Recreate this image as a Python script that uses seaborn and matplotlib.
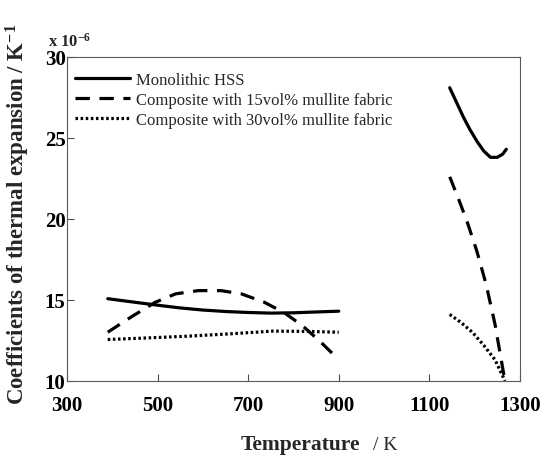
import matplotlib

matplotlib.use("Agg")
import matplotlib.pyplot as plt
import numpy as np
import pandas as pd
import seaborn as sns

# values (x: temperature / K, y: CTE x 1e-6 / K)
hss_lo_t = [390, 450, 500, 550, 600, 650, 700, 750, 800, 850, 900]
hss_lo_v = [15.07, 14.85, 14.67, 14.5, 14.37, 14.28, 14.22, 14.18, 14.2, 14.25, 14.3]
hss_hi_t = [1145, 1160, 1175, 1190, 1205, 1220, 1235, 1250, 1262, 1270]
hss_hi_v = [28.1, 27.2, 26.3, 25.5, 24.8, 24.2, 23.8, 23.8, 24.0, 24.3]

c15_lo_t = [390, 445, 495, 540, 590, 640, 685, 735, 780, 820, 860, 900]
c15_lo_v = [13.0, 14.0, 14.85, 15.37, 15.57, 15.57, 15.37, 14.86, 14.2, 13.4, 12.4, 11.3]
c15_hi_t = [1145, 1165, 1185, 1205, 1225, 1245, 1265]
c15_hi_v = [22.6, 21.2, 19.7, 18.0, 16.0, 13.5, 10.3]

c30_lo_t = [390, 480, 570, 660, 755, 830, 900]
c30_lo_v = [12.55, 12.65, 12.76, 12.9, 13.07, 13.05, 13.0]
c30_hi_t = [1145, 1170, 1195, 1220, 1245, 1267]
c30_hi_v = [14.1, 13.6, 13.0, 12.2, 11.3, 10.0]

labels = ["Monolithic HSS",
          "Composite with 15vol% mullite fabric",
          "Composite with 30vol% mullite fabric"]

x_ticks = [300, 500, 700, 900, 1100, 1300]
y_ticks = [10, 15, 20, 25, 30]

frames = []
for lab, segs in zip(labels, [[(hss_lo_t, hss_lo_v), (hss_hi_t, hss_hi_v)],
                              [(c15_lo_t, c15_lo_v), (c15_hi_t, c15_hi_v)],
                              [(c30_lo_t, c30_lo_v), (c30_hi_t, c30_hi_v)]]):
    for i, (t, v) in enumerate(segs):
        frames.append(pd.DataFrame({"T": t, "cte": v, "series": lab, "seg": i}))
df = pd.concat(frames, ignore_index=True)

sns.set_style("ticks")
plt.rcParams["font.family"] = ["Liberation Serif", "DejaVu Serif"]
plt.rcParams["mathtext.fontset"] = "custom"
plt.rcParams["mathtext.rm"] = "Liberation Serif"
plt.rcParams["mathtext.bf"] = "Liberation Serif:bold"
plt.rcParams["mathtext.default"] = "bf"

fig = plt.figure(figsize=(5.49, 4.6), dpi=100)
ax = fig.add_axes([0.122, 0.17, 0.825, 0.704])

sns.lineplot(
    data=df, x="T", y="cte", hue="series", style="series", units="seg",
    estimator=None, sort=False, ax=ax,
    palette={l: "black" for l in labels},
    dashes={labels[0]: "", labels[1]: (4.5, 3), labels[2]: (0.8, 0.8)},
    linewidth=2.3,
)

ax.set_xlim(300, 1300)
ax.set_ylim(10, 30)
ax.set_xticks(x_ticks)
ax.set_yticks(y_ticks)
ax.tick_params(direction="in", length=5, width=0.8, colors="0.3",
               labelcolor="black", labelsize=15)
ax.tick_params(axis="x", pad=10)
ax.tick_params(axis="y", pad=1)
for lbl in ax.get_xticklabels() + ax.get_yticklabels():
    lbl.set_fontweight("bold")
for sp in ax.spines.values():
    sp.set_visible(True)
    sp.set_linewidth(0.8)
    sp.set_color("0.35")
ax.set_xlabel("")
ax.set_ylabel("")

leg = ax.legend(loc="upper left", frameon=False, fontsize=12, handlelength=3.3,
                handletextpad=0.4, labelspacing=0.25, borderaxespad=0.2,
                bbox_to_anchor=(-0.005, 0.985))

fig.text(0.032, 0.535, r"Coefficients of thermal expansion / K$^{-1}$",
         rotation=90, ha="center", va="center", fontsize=16.5, fontweight="bold")
fig.text(0.087, 0.89, r"x 10$^{-6}$", ha="left", va="bottom", fontsize=12,
         fontweight="bold")
fig.text(0.548, 0.032, "Temperature", ha="center", va="center", fontsize=15.5,
         fontweight="bold")
fig.text(0.68, 0.032, "/ K", ha="left", va="center", fontsize=14)

fig.savefig("out.png", dpi=100)
plt.close(fig)
